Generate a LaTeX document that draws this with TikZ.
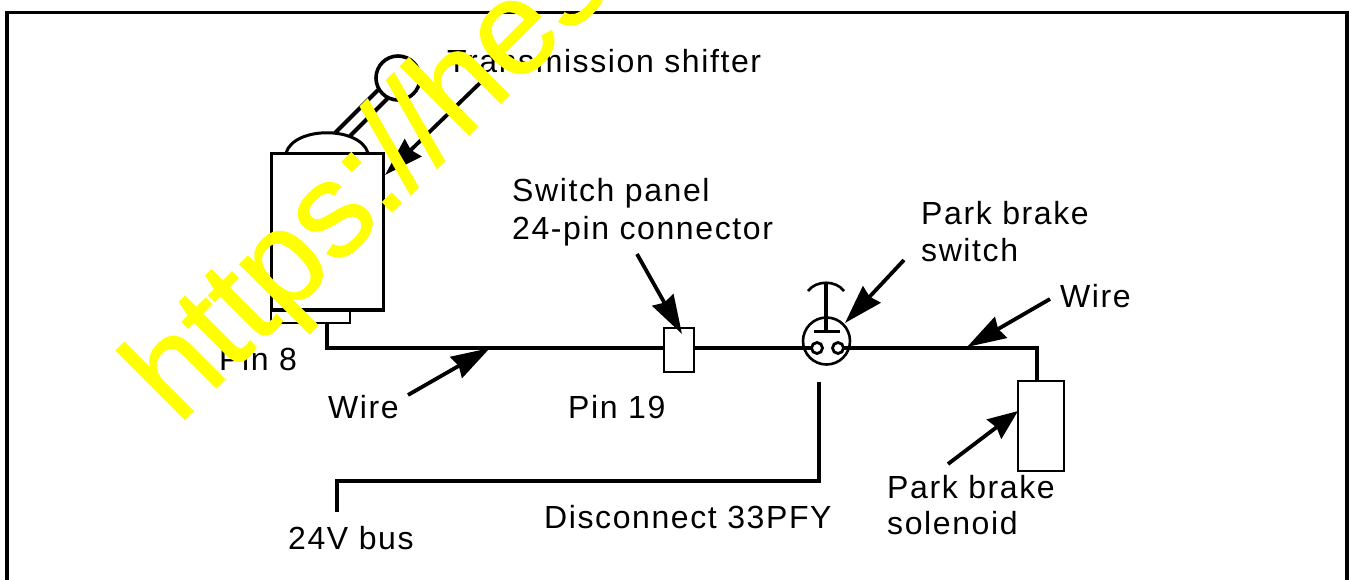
\documentclass[tikz,border=0pt]{standalone}
\usepackage{fontspec}
\setmainfont{Liberation Sans}
\newfontfamily\labfont[LetterSpace=5]{Liberation Sans}
\newfontfamily\wmfont[FakeBold=0.9]{Liberation Sans}
\usetikzlibrary{arrows.meta}
\definecolor{wmyellow}{RGB}{255,255,0}
\tikzset{
 px/.style={x=1pt,y=-1pt},
 lab/.style={inner sep=0pt,anchor=base west,font=\labfont\fontsize{32}{37}\selectfont,text=black},
 wire/.style={draw=black,line width=4pt,line join=miter},
 thinl/.style={draw=black,line width=4pt},
 lead/.style={draw=black,line width=3.8pt},
 longhead/.style={lead,-{Stealth[inset=3pt,length=39pt,width=24pt]}},
 shorthead/.style={lead,-{Stealth[inset=3pt,length=30pt,width=24pt]}},
 box/.style={draw=black,line width=2.6pt,fill=white,outer sep=0pt,inner sep=0pt,anchor=north west},
 disc/.style={circle,draw=black,fill=white,line width=2.6pt,inner sep=0pt,outer sep=0pt},
}
\begin{document}
\begin{tikzpicture}[px]
\useasboundingbox (0,0) rectangle (1349,579);
\fill[white] (0,0) rectangle (1349,579);
\draw[black,line width=3.4pt] (7,590) -- (7,12.5) -- (1347,12.5) -- (1347,590);
% lever
\draw[thinl] (335,133) -- (378,90);
\draw[thinl] (350,136) -- (388,98);
\node[disc,line width=3.6pt,fill=none,minimum size=44pt] (knob) at (398,78) {};
\draw[black,line width=3pt] (286,153) .. controls (294,126) and (360,126) .. (368,153);
\node[box,line width=3pt,minimum width=112pt,minimum height=157pt] (trans) at (271,153) {};
\node[box,minimum width=79pt,minimum height=13pt] (pin) at (271,310) {};
\draw[black,line width=4pt] (271,310) -- (384,310);
% main wires
\coordinate (w0) at (327,323);
\coordinate (w1) at (327,348);
\coordinate (w2) at (816,348);
\coordinate (w3) at (838,348);
\coordinate (w4) at (1037,348);
\coordinate (w5) at (1037,381);
\node[disc,minimum size=47pt] (sw) at (826.5,341) {};
\draw[wire] (w0) -- (w1) -- (w2);
\draw[wire] (w3) -- (w4) -- (w5);
\node[box,minimum width=30pt,minimum height=44pt] (conn) at (664,328) {};
\node[box,minimum width=46pt,minimum height=90pt] (sol) at (1018,381) {};
% switch
\draw[black,line width=4pt] (826,283) -- (826,331);
\draw[black,line width=3.6pt] (814,331.5) -- (840,331.5);
\draw[black,line width=2.6pt] (808,291) .. controls (816,280) and (836,280) .. (844,291);
\node[disc,line width=2.8pt,minimum size=11pt] (c1) at (817,348) {};
\node[disc,line width=2.8pt,minimum size=11pt] (c2) at (838,348) {};
% bus
\coordinate (b0) at (819,382);
\coordinate (b1) at (819,481);
\coordinate (b2) at (337,481);
\coordinate (b3) at (337,512);
\draw[wire] (b0) -- (b1) -- (b2) -- (b3);
% leads
\coordinate (a1) at (480,83); \coordinate (a1e) at (385,175);
\draw[longhead] (a1) -- (a1e);
\coordinate (a2) at (408,395); \coordinate (a2e) at (490,348);
\draw[longhead] (a2) -- (a2e);
\coordinate (a3) at (637,254); \coordinate (a3e) at (682,334);
\draw[longhead] (a3) -- (a3e);
\coordinate (a4) at (904,260); \coordinate (a4e) at (845,323);
\draw[longhead] (a4) -- (a4e);
\coordinate (a5) at (1050,299); \coordinate (a5e) at (967,347);
\draw[longhead] (a5) -- (a5e);
\coordinate (a6) at (948,464); \coordinate (a6e) at (1018,411);
\draw[shorthead] (a6) -- (a6e);
% labels
\node[lab] (t1) at (447,72) {Transmission shifter};
\node[lab] (t2) at (512,201) {Switch panel};
\node[lab] (t3) at (512,239) {24-pin connector};
\node[lab] (t4) at (921,224) {Park brake};
\node[lab] (t5) at (921,261) {switch};
\node[lab] (t6) at (1060,307) {Wire};
\node[lab] (t7) at (219,370) {Pin 8};
\node[lab] (t8) at (328,418) {Wire};
\node[lab] (t9) at (568,418) {Pin 19};
\node[lab] (t10) at (887,498) {Park brake};
\node[lab] (t11) at (887,534) {solenoid};
\node[lab] (t12) at (544,528) {Disconnect 33PFY};
\node[lab] (t13) at (288,549) {24V bus};
% watermark
\begin{scope}
\clip (0,0) rectangle (1349,579);
\node[inner sep=0pt,anchor=base west,rotate=45,text=wmyellow,font=\wmfont\fontsize{134}{140}\selectfont] (wm) at (178,426) {https://hes};
\end{scope}
\end{tikzpicture}
\end{document}
